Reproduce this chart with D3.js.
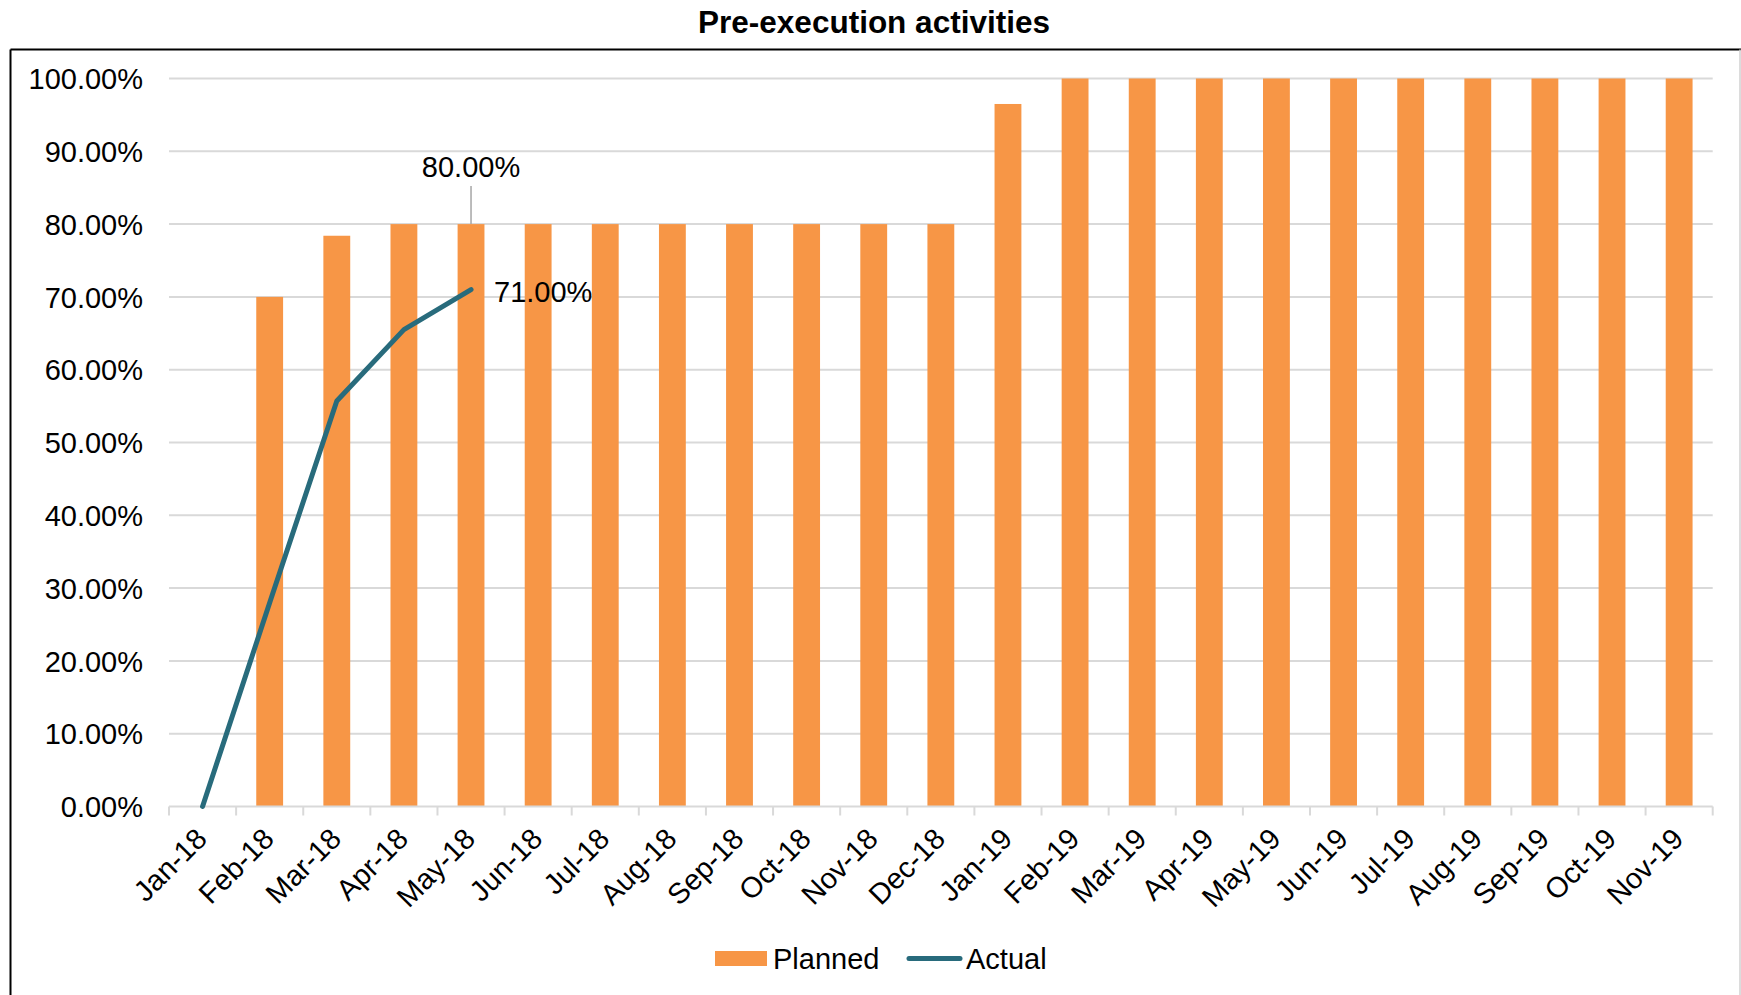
<!DOCTYPE html>
<html>
<head>
<meta charset="utf-8">
<script src="https://cdn.jsdelivr.net/npm/d3@7"></script>
<style>
  html, body { margin: 0; padding: 0; background: #fff; }
  svg { display: block; }
  text { font-family: "Liberation Sans", Arial, sans-serif; fill: #000; }
</style>
</head>
<body>
<svg id="chart" width="1741" height="995"></svg>
<script>
const months = ["Jan-18","Feb-18","Mar-18","Apr-18","May-18","Jun-18","Jul-18","Aug-18","Sep-18","Oct-18","Nov-18","Dec-18",
                "Jan-19","Feb-19","Mar-19","Apr-19","May-19","Jun-19","Jul-19","Aug-19","Sep-19","Oct-19","Nov-19"];
const planned = [0, 0.70, 0.784, 0.80, 0.80, 0.80, 0.80, 0.80, 0.80, 0.80, 0.80, 0.80,
                 0.965, 1, 1, 1, 1, 1, 1, 1, 1, 1, 1];
const actualMonths = ["Jan-18","Feb-18","Mar-18","Apr-18","May-18"];
const actual = [0, 0.28, 0.557, 0.655, 0.71];
const yTicks = [0, 0.1, 0.2, 0.3, 0.4, 0.5, 0.6, 0.7, 0.8, 0.9, 1.0];
const title = "Pre-execution activities";
const seriesNames = ["Planned", "Actual"];
const plannedLabelMonth = "May-18";
const plannedLabelValue = 0.80;

const colors = { planned: "#f79646", actual: "#286b7c", grid: "#d9d9d9" };
const svg = d3.select("#chart");
const plot = { left: 169, right: 1712.7, top: 78.5, bottom: 806.5 };
const fs = 29;

const x = d3.scaleBand().domain(months).range([plot.left, plot.right]).paddingInner(0.6).paddingOuter(0.3);
const y = d3.scaleLinear().domain([0, 1]).range([plot.bottom, plot.top]);
const fmt = d3.format(".2%");

// outer frame
svg.append("line").attr("x1", 10.5).attr("x2", 1741).attr("y1", 49.5).attr("y2", 49.5).attr("stroke", "#000").attr("stroke-width", 2);
svg.append("line").attr("x1", 10.5).attr("x2", 10.5).attr("y1", 49.5).attr("y2", 995).attr("stroke", "#000").attr("stroke-width", 2);
svg.append("line").attr("x1", 1740).attr("x2", 1740).attr("y1", 49.5).attr("y2", 995).attr("stroke", "#d0d0d0").attr("stroke-width", 1.5);

// title
svg.append("text").attr("x", 874).attr("y", 33).attr("text-anchor", "middle")
  .style("font-weight", "bold").style("font-size", "31.5px").text(title);

// gridlines (0 line is axis)
svg.append("g").selectAll("line").data(yTicks.filter(d => d > 0)).join("line")
  .attr("x1", plot.left).attr("x2", plot.right)
  .attr("y1", d => y(d)).attr("y2", d => y(d))
  .attr("stroke", colors.grid).attr("stroke-width", 2);

// y axis labels
const yAxis = d3.axisLeft(y).tickValues(yTicks).tickFormat(fmt).tickSize(0).tickPadding(0);
const yg = svg.append("g").attr("transform", `translate(${143},0)`).call(yAxis);
yg.select(".domain").remove();
yg.selectAll("text").style("font-size", fs + "px").attr("font-family", null).attr("dy", "0.35em");

// bars
svg.append("g").selectAll("rect").data(months.map((m, i) => ({ m, v: planned[i] })).filter(d => d.v > 0)).join("rect")
  .attr("x", d => x(d.m)).attr("width", x.bandwidth())
  .attr("y", d => y(d.v)).attr("height", d => y(0) - y(d.v))
  .attr("fill", colors.planned);

// x axis line and ticks at band boundaries
const step = x.step();
svg.append("line").attr("x1", plot.left).attr("x2", plot.right).attr("y1", y(0)).attr("y2", y(0))
  .attr("stroke", colors.grid).attr("stroke-width", 2);
svg.append("g").selectAll("line").data(d3.range(months.length + 1)).join("line")
  .attr("x1", i => x.range()[0] + i * step).attr("x2", i => x.range()[0] + i * step)
  .attr("y1", y(0)).attr("y2", y(0) + 9)
  .attr("stroke", colors.grid).attr("stroke-width", 2);

// x labels
svg.append("g").selectAll("text").data(months).join("text")
  .attr("transform", d => `translate(${x(d) + x.bandwidth() / 2 + 6},${y(0) + 34}) rotate(-45)`)
  .attr("text-anchor", "end").style("font-size", fs + "px").text(d => d);

// actual line
const line = d3.line().x((d, i) => x(actualMonths[i]) + x.bandwidth() / 2).y(d => y(d));
svg.append("path").datum(actual).attr("d", line).attr("fill", "none")
  .attr("stroke", colors.actual).attr("stroke-width", 5).attr("stroke-linecap", "round").attr("stroke-linejoin", "round");

// data labels
const px = x(plannedLabelMonth) + x.bandwidth() / 2;
svg.append("line").attr("x1", px).attr("x2", px).attr("y1", y(plannedLabelValue) - 38).attr("y2", y(plannedLabelValue))
  .attr("stroke", "#a6a6a6").attr("stroke-width", 1.5);
svg.append("text").attr("x", px).attr("y", y(plannedLabelValue) - 47).attr("text-anchor", "middle")
  .style("font-size", fs + "px").text(fmt(plannedLabelValue));
const lastI = actual.length - 1;
svg.append("text").attr("x", x(actualMonths[lastI]) + x.bandwidth() / 2 + 23).attr("y", y(actual[lastI]) + 12.5)
  .style("font-size", fs + "px").text(fmt(actual[lastI]));

// legend
const lg = svg.append("g");
lg.append("rect").attr("x", 715).attr("y", 951).attr("width", 52).attr("height", 15).attr("fill", colors.planned);
lg.append("text").attr("x", 773).attr("y", 968.5).style("font-size", fs + "px").text(seriesNames[0]);
lg.append("line").attr("x1", 909).attr("x2", 960).attr("y1", 958.5).attr("y2", 958.5)
  .attr("stroke", colors.actual).attr("stroke-width", 5).attr("stroke-linecap", "round");
lg.append("text").attr("x", 966).attr("y", 968.5).style("font-size", fs + "px").text(seriesNames[1]);
</script>
</body>
</html>
